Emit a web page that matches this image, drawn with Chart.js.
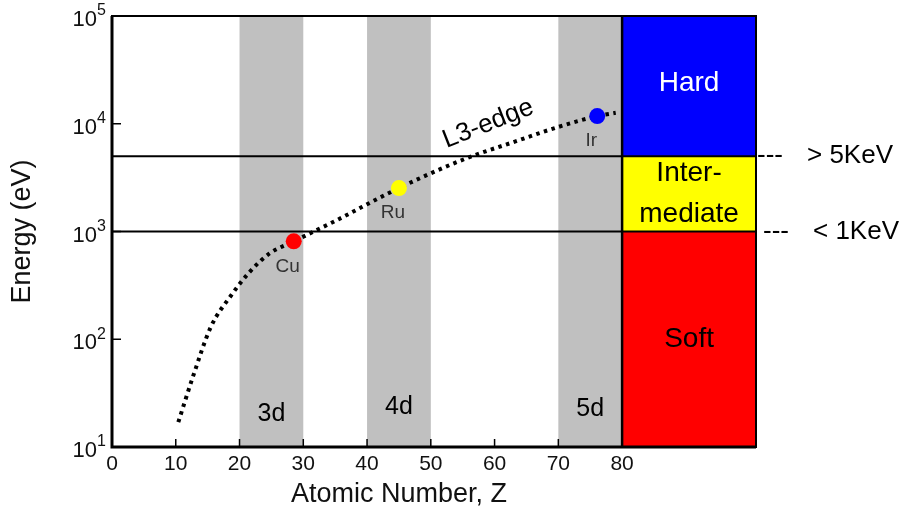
<!DOCTYPE html>
<html>
<head>
<meta charset="utf-8">
<script src="https://cdn.jsdelivr.net/npm/chart.js@4.4.1/dist/chart.umd.min.js"></script>
<style>
  html, body { margin:0; padding:0; background:#fff; }
  #wrap { width:902px; height:508px; position:relative; }
</style>
</head>
<body>
<div id="wrap"><canvas id="chart"></canvas></div>
<script>
// L3 absorption edge
const edgeZ = [10.4, 12.7, 15.5, 18.7, 21.6, 24.7, 28.5, 35.2, 45.0, 55.5, 62.8, 70.1, 76.1, 79.0];
const edgeE = [17, 45, 130, 256, 422, 625, 810, 1270, 2530, 4760, 6710, 9380, 11780, 12650];

// marked elements
const elemNames  = ['Cu', 'Ru', 'Ir'];
const elemZ      = [28.5, 45.0, 76.1];
const elemE      = [810, 2530, 11780];
const elemColors = ['#ff0000', '#ffff00', '#0000ff'];

// d-shell bands
const bandNames = ['3d', '4d', '5d'];
const bandFrom  = [20, 40, 70];
const bandTo    = [30, 50, 80];

// energy regimes, drawn from Z = 80 to the right edge
const regimeNames  = [['Hard'], ['Inter-', 'mediate'], ['Soft']];
const regimeLow    = [5000, 1000, 10];
const regimeHigh   = [100000, 5000, 1000];
const regimeColors = ['#0000ff', '#ffff00', '#ff0000'];
const regimeInk    = ['#ffffff', '#000000', '#000000'];
const regimeZ = 80;

// thresholds
const limitE      = [5000, 1000];
const limitLabels = ['> 5KeV', '< 1KeV'];

// axes
const xTicks = [0, 10, 20, 30, 40, 50, 60, 70, 80];
const yTicks = [10, 100, 1000, 10000, 100000];
const X_MAX = 101;

const FAM = "'Liberation Sans', Arial, sans-serif";
const f = px => px + 'px ' + FAM;

const decor = {
  id: 'decor',
  beforeDatasetsDraw(chart) {
    const { ctx, chartArea: a, scales: { x, y } } = chart;
    ctx.save();
    ctx.fillStyle = '#c0c0c0';
    bandFrom.forEach((z, i) => {
      const l = x.getPixelForValue(z), r = x.getPixelForValue(bandTo[i]);
      ctx.fillRect(l, a.top, r - l, a.bottom - a.top);
    });
    const xl = x.getPixelForValue(regimeZ);
    regimeLow.forEach((lo, i) => {
      const t = y.getPixelForValue(regimeHigh[i]), b = y.getPixelForValue(lo);
      ctx.fillStyle = regimeColors[i];
      ctx.fillRect(xl, t, a.right - xl, b - t);
    });
    ctx.restore();
  },
  afterDatasetsDraw(chart) {
    const { ctx, chartArea: a, scales: { x, y } } = chart;
    ctx.save();
    ctx.strokeStyle = '#000';

    // regime boxes
    const xl = x.getPixelForValue(regimeZ);
    ctx.lineWidth = 2.5;
    ctx.beginPath();
    ctx.moveTo(xl, a.top); ctx.lineTo(xl, a.bottom);
    ctx.stroke();

    // frame
    ctx.lineWidth = 2;
    ctx.strokeRect(a.left, a.top, a.right - a.left, a.bottom - a.top);
    ctx.lineWidth = 3;
    ctx.beginPath();
    ctx.moveTo(a.left, a.top); ctx.lineTo(a.left, a.bottom); ctx.lineTo(a.right, a.bottom);
    ctx.stroke();

    // inward ticks
    ctx.lineWidth = 1.5;
    ctx.beginPath();
    xTicks.forEach(v => { const px = x.getPixelForValue(v); ctx.moveTo(px, a.bottom); ctx.lineTo(px, a.bottom - 8); });
    yTicks.forEach(v => { const py = y.getPixelForValue(v); ctx.moveTo(a.left, py); ctx.lineTo(a.left + 9, py); });
    ctx.stroke();

    // y tick labels 10^n
    ctx.fillStyle = '#111';
    yTicks.forEach(v => {
      const py = y.getPixelForValue(v);
      ctx.font = f(22); ctx.textAlign = 'right'; ctx.textBaseline = 'middle';
      ctx.fillText('10', a.left - 15, py + 4);
      ctx.font = f(16); ctx.textAlign = 'left';
      ctx.fillText(String(Math.round(Math.log10(v))), a.left - 15, py - 5);
    });

    // x title
    ctx.font = f(27); ctx.textAlign = 'center'; ctx.textBaseline = 'middle';
    ctx.fillText('Atomic Number, Z', x.getPixelForValue(45), 495);

    // band labels
    const bandLabelE = [20, 23.4, 22.5];
    ctx.font = f(25); ctx.fillStyle = '#000';
    bandNames.forEach((n, i) => {
      ctx.fillText(n, x.getPixelForValue((bandFrom[i] + bandTo[i]) / 2), y.getPixelForValue(bandLabelE[i]));
    });

    // element labels
    ctx.font = f(19); ctx.fillStyle = '#333';
    elemNames.forEach((n, i) => {
      ctx.fillText(n, x.getPixelForValue(elemZ[i]) - 6, y.getPixelForValue(elemE[i]) + 25);
    });

    // L3-edge
    ctx.save();
    ctx.translate(x.getPixelForValue(59), y.getPixelForValue(10000));
    ctx.rotate(-21.5 * Math.PI / 180);
    ctx.font = f(26); ctx.fillStyle = '#000';
    ctx.fillText('L3-edge', 0, 0);
    ctx.restore();

    // regime labels
    const xc = (xl + a.right) / 2;
    ctx.font = f(28);
    regimeNames.forEach((lines, i) => {
      const t = y.getPixelForValue(regimeHigh[i]), b = y.getPixelForValue(regimeLow[i]);
      const cy = (t + b) / 2 + (i === 0 ? -3 : 0);
      ctx.fillStyle = regimeInk[i];
      lines.forEach((s, k) => ctx.fillText(s, xc, cy + (k - (lines.length - 1) / 2) * 41));
    });

    // thresholds outside the frame
    ctx.font = f(26); ctx.fillStyle = '#000'; ctx.textAlign = 'left';
    limitE.forEach((e, i) => {
      const py = y.getPixelForValue(e);
      ctx.fillText('---', a.right + 1 + i * 6, py);
      ctx.fillText(limitLabels[i], a.right + 51 + i * 6, py);
    });
    ctx.restore();
  }
};

const datasets = [
  {
    type: 'scatter',
    data: elemZ.map((z, i) => ({ x: z, y: elemE[i] })),
    backgroundColor: elemColors, borderWidth: 0, pointRadius: 8, pointHoverRadius: 8
  },
  {
    type: 'line',
    data: edgeZ.map((z, i) => ({ x: z, y: edgeE[i] })),
    borderColor: '#000', borderWidth: 4, borderDash: [3.5, 4.5],
    pointRadius: 0, cubicInterpolationMode: 'monotone', fill: false
  },
  ...limitE.map(e => ({
    type: 'line',
    data: [{ x: 0, y: e }, { x: X_MAX, y: e }],
    borderColor: '#000', borderWidth: 2, pointRadius: 0, fill: false
  }))
];

new Chart(document.getElementById('chart'), {
  data: { datasets },
  options: {
    responsive: true, maintainAspectRatio: false, animation: false,
    layout: { padding: { left: 0, right: 146, top: 16, bottom: 0 } },
    plugins: { legend: { display: false }, tooltip: { enabled: false } },
    scales: {
      x: {
        type: 'linear', min: 0, max: X_MAX,
        grid: { display: false, drawTicks: false }, border: { display: false },
        afterBuildTicks: s => { s.ticks = xTicks.map(v => ({ value: v })); },
        afterFit: s => { s.height = 61; },
        ticks: { font: { family: FAM, size: 21 }, color: '#111', padding: 5, autoSkip: false, maxRotation: 0 }
      },
      y: {
        type: 'logarithmic', min: 10, max: 100000,
        grid: { display: false }, border: { display: false },
        afterBuildTicks: s => { s.ticks = yTicks.map(v => ({ value: v })); },
        afterFit: s => { s.width = 112; },
        ticks: { display: false },
        title: { display: true, text: 'Energy (eV)', color: '#111', font: { family: FAM, size: 27 }, padding: { top: 6, bottom: 0 } }
      }
    }
  },
  plugins: [decor]
});
</script>
</body>
</html>
